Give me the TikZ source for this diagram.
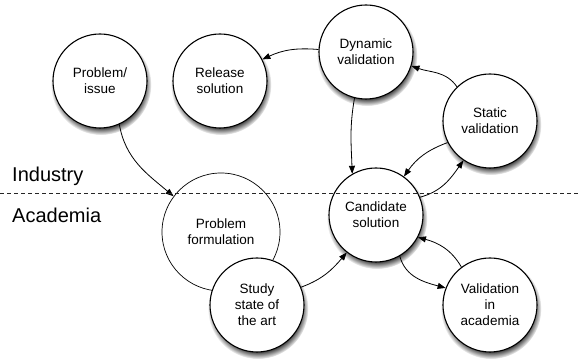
\documentclass[tikz,border=0pt]{standalone}
\usepackage{fontspec}
\setmainfont{Liberation Sans}
\usetikzlibrary{arrows.meta,shadows}
\tikzset{
  stage/.style={circle, draw=black, line width=1.1pt, fill=white, inner sep=0pt,
    minimum size=94pt, align=center,
    font=\fontsize{13.5}{16}\selectfont,
    circular drop shadow={shadow xshift=1pt, shadow yshift=-3.5pt, shadow scale=1.07, fill=black, opacity=0.75}},
  bigstage/.style={circle, draw=black, line width=0.7pt, fill=white, inner sep=0pt,
    minimum size=118pt, align=center,
    font=\fontsize{13.5}{16}\selectfont},
  arr/.style={line width=0.8pt, -{Triangle[length=8pt,width=6pt]}},
  zone/.style={anchor=base west, inner sep=0pt, font=\fontsize{20}{24}\selectfont},
  divider/.style={black!85, line width=0.8pt, dash pattern=on 4pt off 3pt}
}
\begin{document}
\begin{tikzpicture}[x=1pt,y=1pt]
\useasboundingbox (0,0) rectangle (579,363);
\node[stage] (pi) at (100,282) {Problem/\\issue};
\node[stage] (rs) at (220,282) {Release\\solution};
\node[stage] (dv) at (366,311) {Dynamic\\validation};
\node[stage] (sv) at (490,242) {Static\\validation};
\node[bigstage] (pf) at (221,131) {Problem\\formulation};
\node[stage] (st) at (257,58) {Study\\state of\\the art};
\node[stage] (cs) at (376,148) {Candidate\\solution};
\node[stage] (via) at (490,58) {Validation\\in\\academia};

\draw[arr] (pi.-66) to[out=-80,in=140] (pf.143);
\draw[arr] (dv.177) to[out=175,in=25] (rs.27);
\draw[arr] (dv.-104) to[out=-100,in=92] (cs.120);
\draw[arr] (sv.134) to[out=125,in=-20] (dv.-17);
\draw[arr] (sv.207) to[out=200,in=55] (cs.54);
\draw[arr] (cs.22) to[out=15,in=-125] (sv.-124);
\draw[arr] (st.22) to[out=20,in=-130] (cs.-128);
\draw[arr] (cs.-60) to[out=-75,in=165] (via.159);
\draw[arr] (via.127) to[out=120,in=-15] (cs.-28);

\coordinate (dl) at (0,170);
\coordinate (dr) at (579,170);
\draw[divider] (dl) -- (dr);
\node[zone] (ind) at (12,181) {Industry};
\node[zone] (aca) at (12,140) {Academia};
\end{tikzpicture}
\end{document}
